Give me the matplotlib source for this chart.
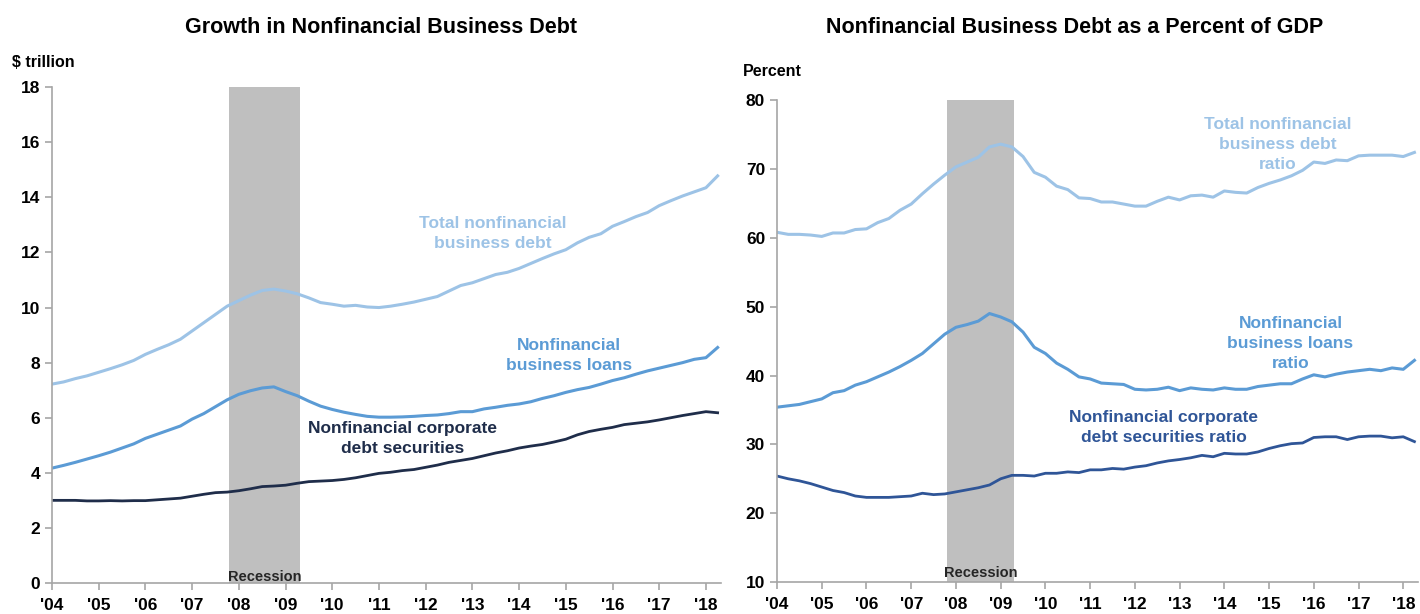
import numpy as np
import matplotlib.pyplot as plt

plt.rcParams['font.family'] = ['Liberation Sans', 'DejaVu Sans']
plt.rcParams['font.weight'] = 'bold'

# quarterly, 2004 Q1 .. 2018 Q2
quarters = 2004 + np.arange(58) * 0.25

total_debt = [7.22, 7.30, 7.42, 7.52, 7.65, 7.78, 7.92, 8.08, 8.30, 8.48, 8.65, 8.85,
              9.15, 9.45, 9.75, 10.05, 10.25, 10.45, 10.62, 10.67, 10.60, 10.50, 10.35, 10.18,
              10.12, 10.05, 10.08, 10.02, 10.00, 10.05, 10.12, 10.20, 10.30, 10.40, 10.60, 10.80,
              10.90, 11.05, 11.20, 11.28, 11.42, 11.60, 11.78, 11.95, 12.10, 12.35, 12.55, 12.68,
              12.95, 13.12, 13.30, 13.45, 13.70, 13.88, 14.05, 14.20, 14.35, 14.78]
loans = [4.17, 4.27, 4.38, 4.50, 4.62, 4.75, 4.90, 5.05, 5.25, 5.40, 5.55, 5.70,
         5.95, 6.15, 6.40, 6.65, 6.85, 6.98, 7.08, 7.12, 6.95, 6.80, 6.60, 6.42,
         6.30, 6.20, 6.12, 6.05, 6.02, 6.02, 6.03, 6.05, 6.08, 6.10, 6.15, 6.22,
         6.22, 6.32, 6.38, 6.45, 6.50, 6.58, 6.70, 6.80, 6.92, 7.02, 7.10, 7.22,
         7.35, 7.45, 7.58, 7.70, 7.80, 7.90, 8.00, 8.12, 8.18, 8.55]
securities = [3.00, 3.00, 3.00, 2.98, 2.98, 2.99, 2.98, 2.99, 2.99, 3.02, 3.05, 3.08,
              3.15, 3.22, 3.28, 3.30, 3.35, 3.42, 3.50, 3.52, 3.55, 3.62, 3.68, 3.70,
              3.72, 3.76, 3.82, 3.90, 3.98, 4.02, 4.08, 4.12, 4.20, 4.28, 4.38, 4.45,
              4.52, 4.62, 4.72, 4.80, 4.90, 4.97, 5.03, 5.12, 5.22, 5.38, 5.50, 5.58,
              5.65, 5.75, 5.80, 5.85, 5.92, 6.00, 6.08, 6.15, 6.22, 6.18]

total_ratio = [60.8, 60.5, 60.5, 60.4, 60.2, 60.7, 60.7, 61.2, 61.3, 62.2, 62.8, 64.0,
               64.9, 66.4, 67.8, 69.1, 70.3, 71.0, 71.7, 73.2, 73.6, 73.2, 71.8, 69.5,
               68.8, 67.5, 67.0, 65.8, 65.7, 65.2, 65.2, 64.9, 64.6, 64.6, 65.3, 65.9,
               65.5, 66.1, 66.2, 65.9, 66.8, 66.6, 66.5, 67.3, 67.9, 68.4, 69.0, 69.8,
               71.0, 70.8, 71.3, 71.2, 71.9, 72.0, 72.0, 72.0, 71.8, 72.4]
loans_ratio = [35.4, 35.6, 35.8, 36.2, 36.6, 37.5, 37.8, 38.6, 39.1, 39.8, 40.5, 41.3,
               42.2, 43.2, 44.6, 46.0, 47.0, 47.4, 47.9, 49.0, 48.5, 47.8, 46.3, 44.1,
               43.2, 41.8, 40.9, 39.8, 39.5, 38.9, 38.8, 38.7, 38.0, 37.9, 38.0, 38.3,
               37.8, 38.2, 38.0, 37.9, 38.2, 38.0, 38.0, 38.4, 38.6, 38.8, 38.8, 39.5,
               40.1, 39.8, 40.2, 40.5, 40.7, 40.9, 40.7, 41.1, 40.9, 42.2]
securities_ratio = [25.4, 25.0, 24.7, 24.3, 23.8, 23.3, 23.0, 22.5, 22.3, 22.3, 22.3, 22.4,
                    22.5, 22.9, 22.7, 22.8, 23.1, 23.4, 23.7, 24.1, 25.0, 25.5, 25.5, 25.4,
                    25.8, 25.8, 26.0, 25.9, 26.3, 26.3, 26.5, 26.4, 26.7, 26.9, 27.3, 27.6,
                    27.8, 28.05, 28.4, 28.2, 28.7, 28.6, 28.6, 28.9, 29.4, 29.8, 30.1, 30.2,
                    31.0, 31.1, 31.1, 30.7, 31.1, 31.2, 31.2, 30.95, 31.1, 30.4]

years = list(range(2004, 2019))
year_labels = ["'%02d" % (y % 100) for y in years]
recession = (2007.8, 2009.3)

c_total = '#9DC3E6'
c_loans = '#5B9BD5'
c_sec_left = '#1F2D4A'
c_sec_right = '#2F5597'
spine_col = '#A6A6A6'

fig = plt.figure(figsize=(14.2, 6.14), dpi=100)
ax1 = fig.add_axes([0.0366, 0.0505, 0.4714, 0.8075])
ax2 = fig.add_axes([0.5472, 0.052, 0.4514, 0.785])


def style(ax, ylim, yticks):
    ax.set_xlim(quarters[0], quarters[-1] + 0.08)
    ax.set_ylim(*ylim)
    ax.set_yticks(yticks)
    ax.set_xticks(years)
    ax.set_xticklabels(year_labels)
    for s in ['top', 'right']:
        ax.spines[s].set_visible(False)
    for s in ['left', 'bottom']:
        ax.spines[s].set_color(spine_col)
        ax.spines[s].set_linewidth(1.2)
    ax.tick_params(axis='both', colors=spine_col, labelcolor='black',
                   labelsize=12.5, length=5, width=1.2)
    ax.tick_params(axis='x', pad=6)
    for lab in ax.get_xticklabels() + ax.get_yticklabels():
        lab.set_fontweight('bold')


lbl = dict(ha='center', va='center', fontsize=12.5, fontweight='bold', linespacing=1.42)

# left panel
ax1.axvspan(*recession, color='#BFBFBF', lw=0, zorder=0)
ax1.plot(quarters, total_debt, color=c_total, lw=2.2)
ax1.plot(quarters, loans, color=c_loans, lw=2.2)
ax1.plot(quarters, securities, color=c_sec_left, lw=2.0)
style(ax1, (0, 18), range(0, 19, 2))
ax1.text(sum(recession) / 2, 0.06, 'Recession', ha='center', va='baseline',
         fontsize=10.5, fontweight='bold', color='#262626')
ax1.text(2013.44, 12.7, 'Total nonfinancial\nbusiness debt', color=c_total, **lbl)
ax1.text(2015.07, 8.27, 'Nonfinancial\nbusiness loans', color=c_loans, **lbl)
ax1.text(2011.51, 5.26, 'Nonfinancial corporate\ndebt securities', color=c_sec_left, **lbl)
fig.text(0.0085, 0.899, '$ trillion', ha='left', va='center', fontsize=11.5, fontweight='bold')
fig.text(0.268, 0.955, 'Growth in Nonfinancial Business Debt', ha='center', va='center',
         fontsize=15.5, fontweight='bold')

# right panel
ax2.axvspan(*recession, color='#BFBFBF', lw=0, zorder=0)
ax2.plot(quarters, total_ratio, color=c_total, lw=2.2)
ax2.plot(quarters, loans_ratio, color=c_loans, lw=2.2)
ax2.plot(quarters, securities_ratio, color=c_sec_right, lw=2.0)
style(ax2, (10, 80), range(10, 81, 10))
ax2.text(sum(recession) / 2, 10.77, 'Recession', ha='center', va='baseline',
         fontsize=10.5, fontweight='bold', color='#262626')
ax2.text(2015.19, 73.6, 'Total nonfinancial\nbusiness debt\nratio', color=c_total, **lbl)
ax2.text(2015.48, 44.7, 'Nonfinancial\nbusiness loans\nratio', color=c_loans, **lbl)
ax2.text(2012.64, 32.5, 'Nonfinancial corporate\ndebt securities ratio', color=c_sec_right, **lbl)
fig.text(0.5232, 0.883, 'Percent', ha='left', va='center', fontsize=11.5, fontweight='bold')
fig.text(0.757, 0.955, 'Nonfinancial Business Debt as a Percent of GDP', ha='center', va='center',
         fontsize=15.5, fontweight='bold')

fig.savefig('out.png', dpi=100)
